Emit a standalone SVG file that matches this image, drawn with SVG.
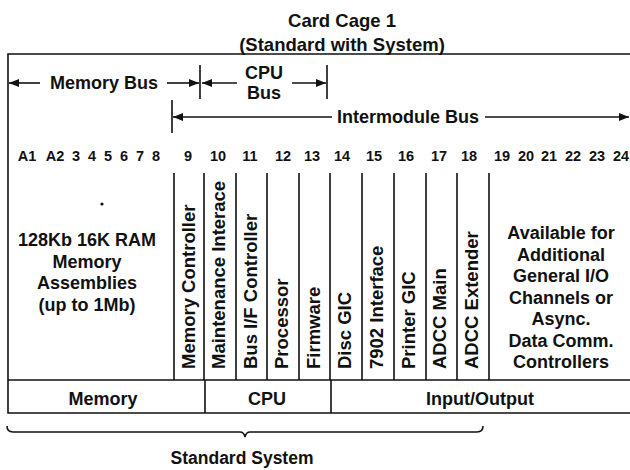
<svg xmlns="http://www.w3.org/2000/svg" width="630" height="470" viewBox="0 0 630 470">
<style>
text{font-family:"Liberation Sans",Arial,sans-serif;font-weight:bold;fill:#111}
.t{font-size:18.5px;text-anchor:middle}
.h{font-size:18px;text-anchor:middle}
.n{font-size:14.5px;text-anchor:middle}
.r{font-size:18.5px;text-anchor:start}
.ln{stroke:#111;stroke-width:1.6;fill:none}
</style>
<defs>
<marker id="ah" viewBox="0 0 10 8" refX="10" refY="4" markerWidth="10" markerHeight="8" markerUnits="userSpaceOnUse" orient="auto-start-reverse">
<path d="M0,0 L10,4 L0,8 Z" fill="#111"/>
</marker>
</defs>
<rect width="630" height="470" fill="#fff"/>
<g id="title">
<text class="t" x="342" y="27">Card Cage 1</text>
<text class="t" x="342" y="51">(Standard with System)</text>
</g>
<g id="frame" class="ln">
<path d="M630,54 H8 V413 H630 M8,380 H630 M205,380 V413 M331,380 V413"/>
<path d="M174,173 V380 M204,173 V380 M236,173 V380 M267,173 V380 M299,173 V380 M330,173 V380 M362,173 V380 M394,173 V380 M426,173 V380 M457,173 V380 M489,173 V380"/>
</g>
<g id="connectors" class="ln">
<path d="M40,83 H9" marker-end="url(#ah)"/>
<path d="M167,83 H199" marker-end="url(#ah)"/>
<path d="M200,65 V99 M327,65 V99 M172,100 V133"/>
<path d="M237,83 H202" marker-end="url(#ah)"/>
<path d="M292,83 H326" marker-end="url(#ah)"/>
<path d="M332,117 H173" marker-end="url(#ah)"/>
<path d="M485,117 H629" marker-end="url(#ah)"/>
<path d="M7,426 Q7,432 13,432 H240 Q244,432 245,437 Q246,432 250,432 H477 Q483,432 483,426"/>
</g>
<g id="bus-labels">
<text class="h" x="104" y="89">Memory Bus</text>
<text class="h" x="264" y="79">CPU</text>
<text class="h" x="264" y="99">Bus</text>
<text class="h" x="408" y="123">Intermodule Bus</text>
</g>
<g id="slots">
<text class="n" x="27" y="161">A1</text>
<text class="n" x="55" y="161">A2</text>
<text class="n" x="76" y="161">3</text>
<text class="n" x="92" y="161">4</text>
<text class="n" x="108" y="161">5</text>
<text class="n" x="124" y="161">6</text>
<text class="n" x="140" y="161">7</text>
<text class="n" x="156" y="161">8</text>
<text class="n" x="188" y="161">9</text>
<text class="n" x="218" y="161">10</text>
<text class="n" x="250" y="161">11</text>
<text class="n" x="283" y="161">12</text>
<text class="n" x="312" y="161">13</text>
<text class="n" x="342" y="161">14</text>
<text class="n" x="374" y="161">15</text>
<text class="n" x="406" y="161">16</text>
<text class="n" x="439" y="161">17</text>
<text class="n" x="469" y="161">18</text>
<text class="n" x="502" y="161">19</text>
<text class="n" x="526" y="161">20</text>
<text class="n" x="549" y="161">21</text>
<text class="n" x="573" y="161">22</text>
<text class="n" x="597" y="161">23</text>
<text class="n" x="621" y="161">24</text>
</g>
<g id="memory-block">
<circle cx="102" cy="204" r="1.6" fill="#111"/>
<text class="h" x="87" y="246">128Kb 16K RAM</text>
<text class="h" x="87" y="267.5">Memory</text>
<text class="h" x="87" y="289">Assemblies</text>
<text class="h" x="87" y="310.5">(up to 1Mb)</text>
</g>
<g id="cards">
<text class="r" transform="translate(194.5,369) rotate(-90)">Memory Controller</text>
<text class="r" transform="translate(225,369) rotate(-90)">Maintenance Interace</text>
<text class="r" transform="translate(256.5,369) rotate(-90)">Bus I/F Controller</text>
<text class="r" transform="translate(288,369) rotate(-90)">Processor</text>
<text class="r" transform="translate(319.5,369) rotate(-90)">Firmware</text>
<text class="r" transform="translate(350.5,369) rotate(-90)">Disc GIC</text>
<text class="r" transform="translate(382.5,369) rotate(-90)">7902 Interface</text>
<text class="r" transform="translate(414.5,369) rotate(-90)">Printer GIC</text>
<text class="r" transform="translate(446,369) rotate(-90)">ADCC Main</text>
<text class="r" transform="translate(477.5,369) rotate(-90)">ADCC Extender</text>
</g>
<g id="available">
<text class="h" x="561" y="239">Available for</text>
<text class="h" x="561" y="260.5">Additional</text>
<text class="h" x="561" y="282">General I/O</text>
<text class="h" x="561" y="303.5">Channels or</text>
<text class="h" x="561" y="325">Async.</text>
<text class="h" x="561" y="346.5">Data Comm.</text>
<text class="h" x="561" y="368">Controllers</text>
</g>
<g id="groups">
<text class="h" x="103" y="405">Memory</text>
<text class="h" x="267" y="405">CPU</text>
<text class="h" x="480" y="405">Input/Output</text>
</g>
<g id="standard">
<text class="h" x="242" y="464" style="font-size:17.5px">Standard System</text>
</g>
</svg>
